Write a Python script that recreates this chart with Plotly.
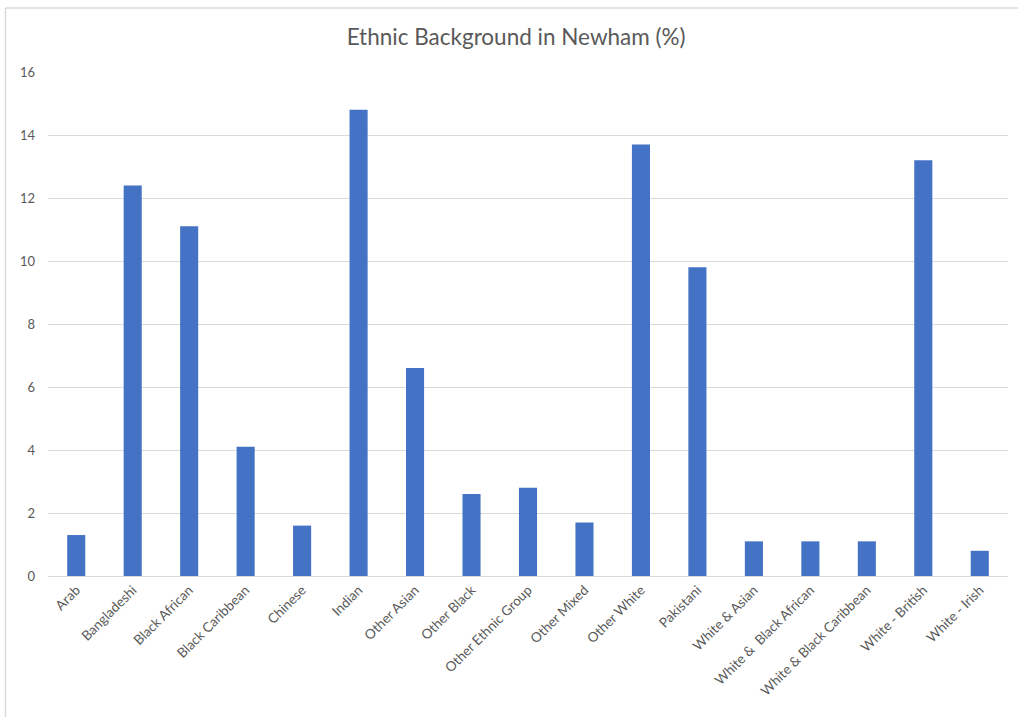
import plotly.graph_objects as go

categories = ["Arab", "Bangladeshi", "Black African", "Black Caribbean", "Chinese",
              "Indian", "Other Asian", "Other Black", "Other Ethnic Group", "Other Mixed",
              "Other White", "Pakistani", "White & Asian", "White &  Black African",
              "White & Black Caribbean", "White - British", "White - Irish"]
values = [1.3, 12.4, 11.1, 4.1, 1.6, 14.8, 6.6, 2.6, 2.8, 1.7, 13.7, 9.8, 1.1, 1.1, 1.1, 13.2, 0.8]
y_ticks = [0, 2, 4, 6, 8, 10, 12, 14, 16]

fig = go.Figure(go.Bar(x=categories, y=values, marker=dict(color="#4472C4", line=dict(width=0))))

font_family = "Lato, 'Open Sans', sans-serif"
fig.update_layout(
    width=1018, height=717,
    margin=dict(l=48, r=10, t=72, b=141),
    paper_bgcolor="white", plot_bgcolor="white",
    bargap=0.68,
    showlegend=False,
    title=dict(text="Ethnic Background in Newham (%)", x=0.507, xanchor="center",
               y=0.948, yanchor="middle",
               font=dict(family=font_family, size=22.5, color="#595959")),
    font=dict(family=font_family, color="#595959"),
    xaxis=dict(tickangle=-45, tickfont=dict(size=13.5, color="#595959"),
               showgrid=False, showline=True, linecolor="#d9d9d9", linewidth=1,
               ticks="", fixedrange=True),
    yaxis=dict(range=[0, 16], tickvals=y_ticks, ticktext=[str(v) for v in y_ticks],
               showgrid=True, gridcolor="#d9d9d9", gridwidth=1, zeroline=False,
               showline=False, ticks="", tickfont=dict(size=13, color="#595959"),
               ticklabelstandoff=12),
    shapes=[
        dict(type="line", xref="paper", yref="paper", x0=-0.0443, x1=1.0104, y0=1.127, y1=1.127,
             line=dict(color="#d9d9d9", width=1.5)),
        dict(type="line", xref="paper", yref="paper", x0=-0.0443, x1=-0.0443, y0=1.127, y1=-0.28,
             line=dict(color="#d9d9d9", width=1.5)),
    ],
)

fig.write_html("out.html")
